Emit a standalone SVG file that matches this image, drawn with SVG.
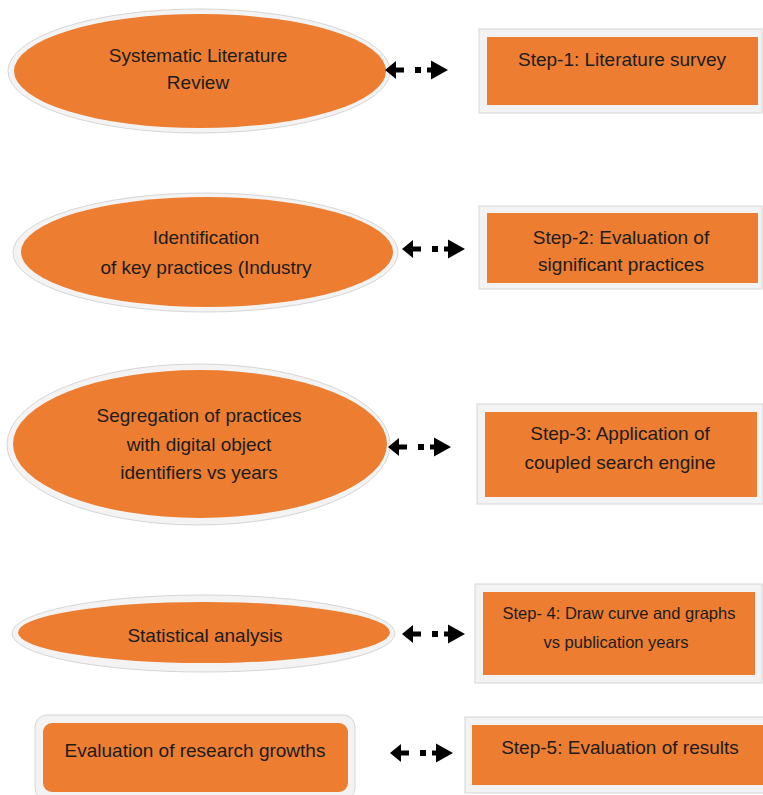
<svg xmlns="http://www.w3.org/2000/svg" width="763" height="795" viewBox="0 0 763 795">
<style>
.frame{fill:#f3f3f3;stroke:#d6d6d6;stroke-width:1}
.fill{fill:#ED7D31}
text{font-family:"Liberation Sans",Arial,sans-serif;font-size:19px;fill:#1c1c1c;text-anchor:middle}
.sm{font-size:16.5px}
</style>
<defs>
<g id="dbl">
<polygon points="0,0 11,-9 11,9" fill="#000"/>
<rect x="10" y="-2.5" width="9" height="5" fill="#000"/>
<rect x="30" y="-3" width="6" height="6" fill="#000"/>
<rect x="42" y="-2.5" width="7" height="5" fill="#000"/>
<polygon points="46,-9.5 46,9.5 63,0" fill="#000"/>
</g>
</defs>
<rect width="763" height="795" fill="#fff"/>

<g id="n1">
<ellipse class="frame" cx="199" cy="71" rx="191" ry="62"/>
<ellipse class="fill" cx="200" cy="71" rx="186" ry="57"/>
<text x="198" y="61.5">Systematic Literature</text>
<text x="198" y="88.5">Review</text>
</g>
<g id="s1">
<rect class="frame" x="479" y="29" width="283" height="84"/>
<rect class="fill" x="487" y="37" width="271" height="68"/>
<text x="622" y="65.5">Step-1: Literature survey</text>
</g>

<g id="n2">
<ellipse class="frame" cx="205.5" cy="252.5" rx="192.5" ry="59.5"/>
<ellipse class="fill" cx="207" cy="252" rx="186" ry="55"/>
<text x="206" y="243.5">Identification</text>
<text x="206" y="273.5">of key practices (Industry</text>
</g>
<g id="s2">
<rect class="frame" x="479" y="206" width="283" height="83"/>
<rect class="fill" x="487" y="213" width="271" height="70"/>
<text x="621" y="243.5">Step-2: Evaluation of</text>
<text x="621" y="270.5">significant practices</text>
</g>

<g id="n3">
<ellipse class="frame" cx="198.5" cy="444.5" rx="191.5" ry="80.5"/>
<ellipse class="fill" cx="200" cy="444" rx="187" ry="74"/>
<text x="199" y="421.5">Segregation of practices</text>
<text x="199" y="450.5">with digital object</text>
<text x="199" y="478.5">identifiers vs years</text>
</g>
<g id="s3">
<rect class="frame" x="477" y="404" width="286" height="100"/>
<rect class="fill" x="485" y="412" width="272" height="85"/>
<text x="620" y="439.5">Step-3: Application of</text>
<text x="620" y="468.5">coupled search engine</text>
</g>

<g id="n4">
<ellipse class="frame" cx="203.5" cy="633.5" rx="191.5" ry="38.5"/>
<ellipse class="fill" cx="204" cy="632.5" rx="186" ry="30.5"/>
<text x="205" y="641.5">Statistical analysis</text>
</g>
<g id="s4">
<rect class="frame" x="475" y="584" width="287" height="99"/>
<rect class="fill" x="483" y="592" width="272" height="83"/>
<text class="sm" x="619" y="619">Step- 4: Draw curve and graphs</text>
<text class="sm" x="616" y="648">vs publication years</text>
</g>

<g id="n5">
<rect class="frame" x="35" y="715" width="320" height="85" rx="12"/>
<rect class="fill" x="43" y="723" width="305" height="69" rx="9"/>
<text x="195" y="756.5">Evaluation of research growths</text>
</g>
<g id="s5">
<rect class="frame" x="465" y="717" width="305" height="76"/>
<rect class="fill" x="472" y="725" width="295" height="60"/>
<text x="620" y="753.5">Step-5: Evaluation of results</text>
</g>

<g id="connectors">
<use href="#dbl" transform="translate(385,70)"/>
<use href="#dbl" transform="translate(402,249)"/>
<use href="#dbl" transform="translate(388,447)"/>
<use href="#dbl" transform="translate(402,634)"/>
<use href="#dbl" transform="translate(390,753)"/>
</g>
</svg>
